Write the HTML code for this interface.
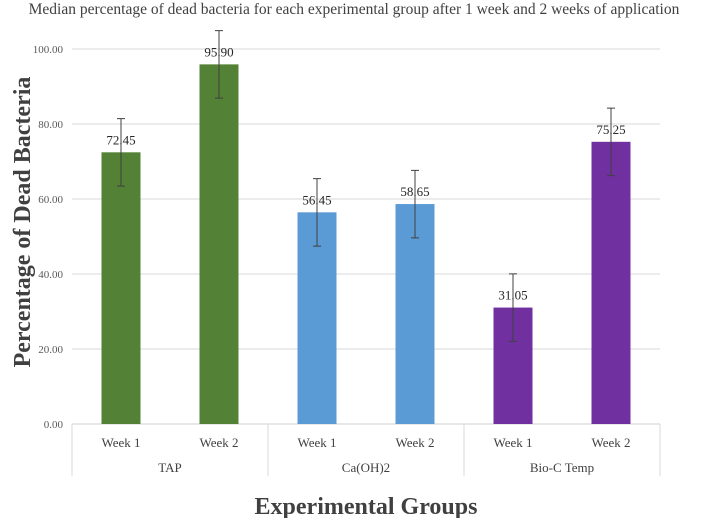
<!DOCTYPE html>
<html><head><meta charset="utf-8"><style>
body{margin:0;background:#fff;}
svg{display:block;}
text{font-family:"Liberation Serif",serif;}
</style></head><body>
<svg id="c" width="708" height="518">
<text x="354" y="14" text-anchor="middle" font-size="15.5" fill="#404040">Median percentage of dead bacteria for each experimental group after 1 week and 2 weeks of application</text>
<text transform="translate(30,222) rotate(-90)" text-anchor="middle" font-size="24" font-weight="bold" fill="#404040">Percentage of Dead Bacteria</text>
<text x="366" y="514" text-anchor="middle" font-size="24" font-weight="bold" fill="#404040">Experimental Groups</text>
<g id="g" font-family="Liberation Serif, serif"></g>
</svg>
<script>
const groups=["TAP","Ca(OH)2","Bio-C Temp"];
const weeks=["Week 1","Week 2"];
const values=[72.45,95.90,56.45,58.65,31.05,75.25];
const errors=[9,9,9,9,9,9];
const labels=["72.45","95.90","56.45","58.65","31.05","75.25"];
const ticks=[0,20,40,60,80,100];
const colors=["#538135","#538135","#5b9bd5","#5b9bd5","#7030a0","#7030a0"];
const NS="http://www.w3.org/2000/svg",g=document.getElementById('g');
const L=72,R=660,Y0=424,Y100=49,n=values.length,bw=(R-L)/n;
const y=v=>Y0-(v/100)*(Y0-Y100);
const x=i=>L+bw*(i+0.5);
function mk(t,a,txt){const e=document.createElementNS(NS,t);for(const k in a)e.setAttribute(k,a[k]);if(txt!=null){e.textContent=txt;e.setAttribute('font-family','Liberation Serif, serif');}g.appendChild(e);return e;}
ticks.forEach(t=>{
const l=mk('line',{x1:L,x2:R,y1:y(t),y2:y(t),stroke:t===0?'#d0d0d0':'#d9d9d9','stroke-width':1});


const tx=mk('text',{x:63,y:y(t)+4,'text-anchor':'end','font-size':11,fill:'#595959'},t.toFixed(2));


});
values.forEach((v,i)=>{
const b=mk('rect',{x:x(i)-19.5,y:y(v),width:39,height:Y0-y(v),fill:colors[i]});


const lb=mk('text',{x:x(i),y:y(v)-8,'text-anchor':'middle','font-size':13,fill:'#262626'},labels[i]);


const t=y(v+errors[i]),bo=y(v-errors[i]);
const e=mk('path',{d:`M${x(i)},${t}V${bo}M${x(i)-4},${t}H${x(i)+4}M${x(i)-4},${bo}H${x(i)+4}`,stroke:'#404040','stroke-width':1,fill:'none'});


const wl=mk('text',{x:x(i),y:447,'text-anchor':'middle','font-size':13,fill:'#404040'},weeks[i%2]);


});
for(let k=0;k<=groups.length;k++){
const sx=L+k*2*bw;
const s=mk('line',{x1:sx,x2:sx,y1:Y0,y2:476,stroke:'#d9d9d9','stroke-width':1});


}
groups.forEach((gn,k)=>{
const t=mk('text',{x:L+(k*2+1)*bw,y:472,'text-anchor':'middle','font-size':13,fill:'#404040'},gn);


});
</script>
</body></html>
